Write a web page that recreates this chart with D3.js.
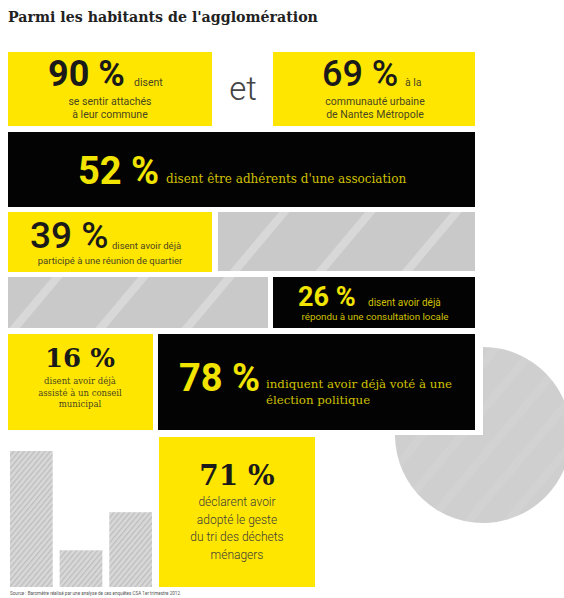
<!DOCTYPE html>
<html><head><meta charset="utf-8">
<script src="https://cdn.jsdelivr.net/npm/d3@7"></script>
<style>body{margin:0;background:#fff}svg{display:block}</style>
</head><body><svg id="c" width="564" height="598"></svg>
<script>
// ---------- data ----------
const title = "Parmi les habitants de l'agglomération";
const statValues = [90, 69, 52, 39, 26, 16, 78, 71];
const statLeads = ["disent", "à la", "disent être adhérents d'une association",
  "disent avoir déjà", "disent avoir déjà", "", "indiquent avoir déjà voté à une", ""];
const statLines = [
  ["se sentir attachés", "à leur commune"],
  ["communauté urbaine", "de Nantes Métropole"],
  [],
  ["participé à une réunion de quartier"],
  ["répondu à une consultation locale"],
  ["disent avoir déjà", "assisté à un conseil", "municipal"],
  ["élection politique"],
  ["déclarent avoir", "adopté le geste", "du tri des déchets", "ménagers"]
];
const pieValues = [78, 22];
const barValues = [100, 27, 55];
const connector = "et";
const source = "Source : Baromètre réalisé par une analyse de ces enquêtes CSA 1er trimestre 2012";

// ---------- styles / layout ----------
const YEL = "#ffe600", BLK = "#030303";
const svg = d3.select("#c");
const defs = svg.append("defs");

const wide = defs.append("pattern").attr("id", "wide").attr("patternUnits", "userSpaceOnUse")
  .attr("width", 66).attr("height", 66).attr("patternTransform", "rotate(40)");
wide.append("rect").attr("width", 66).attr("height", 66).attr("fill", "#c9c9c9");
wide.append("rect").attr("x", 20).attr("width", 8).attr("height", 66).attr("fill", "#d8d8d8");

const fine = defs.append("pattern").attr("id", "fine").attr("patternUnits", "userSpaceOnUse")
  .attr("width", 4).attr("height", 4).attr("patternTransform", "rotate(40)");
fine.append("rect").attr("width", 4).attr("height", 4).attr("fill", "#d8d8d8");
fine.append("rect").attr("width", 1.3).attr("height", 4).attr("fill", "#bdbdbd");

const pieFill = defs.append("pattern").attr("id", "pief").attr("patternUnits", "userSpaceOnUse")
  .attr("width", 30).attr("height", 30).attr("patternTransform", "rotate(40)");
pieFill.append("rect").attr("width", 30).attr("height", 30).attr("fill", "#cfcfcf");
pieFill.append("rect").attr("x", 10).attr("width", 8).attr("height", 30).attr("fill", "#d2d2d2");

// title
svg.append("text").attr("x", 8).attr("y", 22).text(title)
  .attr("font-family", "DejaVu Serif").attr("font-weight", "bold").attr("font-size", 14.2)
  .attr("fill", "#222");

// pie (behind black box)
const pie = d3.pie().sort(null).startAngle(0).endAngle(2 * Math.PI)(pieValues);
const arc = d3.arc().innerRadius(0).outerRadius(88);
svg.append("g").attr("transform", "translate(483,435)")
  .selectAll("path").data(pie.slice(0, 1)).join("path")
  .attr("d", arc).attr("fill", "url(#pief)");

// boxes
const boxes = [
  {x: 8, y: 52, w: 204, h: 74, f: YEL},
  {x: 273, y: 52, w: 202, h: 74, f: YEL},
  {x: 8, y: 132, w: 467, h: 75, f: BLK},
  {x: 8, y: 212, w: 204, h: 60, f: YEL},
  {x: 218, y: 212, w: 257, h: 59, f: "url(#wide)"},
  {x: 8, y: 277, w: 260, h: 51, f: "url(#wide)"},
  {x: 273, y: 277, w: 202, h: 51, f: BLK},
  {x: 8, y: 334, w: 145, h: 96, f: YEL},
  {x: 158, y: 334, w: 317, h: 96, f: BLK, halo: true},
  {x: 159, y: 437, w: 156, h: 150, f: YEL}
];
boxes.filter(b => b.halo).forEach(b => svg.append("rect")
  .attr("x", b.x - 6).attr("y", b.y - 6).attr("width", b.w + 14).attr("height", b.h + 11).attr("fill", "#fff"));
svg.selectAll("rect.box").data(boxes).join("rect").attr("class", "box")
  .attr("x", d => d.x).attr("y", d => d.y).attr("width", d => d.w).attr("height", d => d.h)
  .attr("fill", d => d.f);

// bars
const xb = d3.scaleBand().domain(d3.range(barValues.length)).range([10, 152]).paddingInner(0.14);
const yb = d3.scaleLinear().domain([0, 100]).range([587, 451]);
svg.selectAll("rect.bar").data(barValues).join("rect").attr("class", "bar")
  .attr("x", (d, i) => xb(i)).attr("width", xb.bandwidth())
  .attr("y", d => yb(d)).attr("height", d => yb(0) - yb(d)).attr("fill", "url(#fine)");

// "et"
svg.append("text").attr("x", 243).attr("y", 100).attr("text-anchor", "middle").text(connector)
  .attr("font-family", "Roboto").attr("font-weight", 300).attr("font-size", 33).attr("fill", "#444");

// text helper
function txt(x, y, s, o) {
  return svg.append("text").attr("x", x).attr("y", y).text(s)
    .attr("font-family", o.ff || "Roboto").attr("font-weight", o.fw || 400)
    .attr("font-size", o.fs).attr("fill", o.c).attr("text-anchor", o.a || "start");
}
const pct = v => v + " %";
const DK = "#1a1a1a", SM = "#4a4620", YT = "#f0e400", YS = "#cfc000";

// 90
txt(48, 86, pct(statValues[0]), {fs: 36, fw: 700, c: DK});
txt(134, 86, statLeads[0], {fs: 10.5, c: SM});
statLines[0].forEach((s, i) => txt(110, 105 + i * 13, s, {fs: 10.5, c: SM, a: "middle"}));
// 69
txt(322, 86, pct(statValues[1]), {fs: 36, fw: 500, c: DK});
txt(405, 86, statLeads[1], {fs: 10.5, c: SM});
statLines[1].forEach((s, i) => txt(375, 105 + i * 13, s, {fs: 10.5, c: SM, a: "middle"}));
// 52
txt(78, 184, pct(statValues[2]), {fs: 38, fw: 700, c: YT});
txt(166, 183, statLeads[2], {fs: 12, c: YS, ff: "DejaVu Serif"});
// 39
txt(30, 248, pct(statValues[3]), {fs: 37, fw: 500, c: DK});
txt(112, 249, statLeads[3], {fs: 9.5, c: SM});
statLines[3].forEach((s, i) => txt(110, 264 + i * 12, s, {fs: 9.5, c: SM, a: "middle"}));
// 26
txt(298, 306, pct(statValues[4]), {fs: 27, fw: 700, c: YT});
txt(368, 306, statLeads[4], {fs: 10, c: YS});
statLines[4].forEach((s, i) => txt(375, 320 + i * 12, s, {fs: 9.8, c: YS, a: "middle"}));
// 16
txt(80, 367, pct(statValues[5]), {fs: 26, fw: 700, c: DK, ff: "DejaVu Serif", a: "middle"});
statLines[5].forEach((s, i) => txt(80, 384 + i * 11.5, s, {fs: 8.5, c: SM, a: "middle", ff: "DejaVu Serif"}));
// 78
txt(179, 391, pct(statValues[6]), {fs: 38, fw: 700, c: YT});
txt(266, 388, statLeads[6], {fs: 11.8, c: YS, ff: "DejaVu Serif"});
statLines[6].forEach((s, i) => txt(266, 404 + i * 15, s, {fs: 11.8, c: YS, ff: "DejaVu Serif"}));
// 71
txt(237, 485, pct(statValues[7]), {fs: 28, fw: 700, c: DK, ff: "DejaVu Serif", a: "middle"});
statLines[7].forEach((s, i) => txt(237, 506 + i * 17.5, s, {fs: 12, c: "#3a3a3a", a: "middle", fw: 300}));

// source
txt(10, 595, source, {fs: 4.6, c: "#555"});
</script></body></html>
